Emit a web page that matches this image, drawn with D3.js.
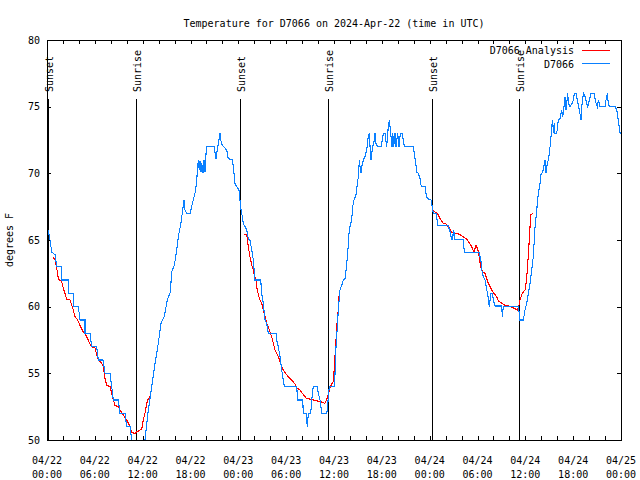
<!DOCTYPE html>
<html><head><meta charset="utf-8">
<script src="https://cdn.jsdelivr.net/npm/d3@7"></script>
<style>
html,body{margin:0;padding:0;background:#fff;}
svg{display:block;}
text{font-family:"DejaVu Sans Mono",monospace;font-size:10px;fill:#000;}
</style></head><body>
<svg id="chart" width="640" height="480"></svg>
<script>
// ---- data ----
const titleText = "Temperature for D7066 on 2024-Apr-22 (time in UTC)";
const yLabelText = "degrees F";
const seriesNames = ["D7066 Analysis", "D7066"];
const yTicks = [50, 55, 60, 65, 70, 75, 80];
const xLabelHours = [0, 6, 12, 18, 24, 30, 36, 42, 48, 54, 60, 66, 72];
const xLabelDates = ["04/22","04/22","04/22","04/22","04/23","04/23","04/23","04/23","04/24","04/24","04/24","04/24","04/25"];
const xLabelTimes = ["00:00","06:00","12:00","18:00","00:00","06:00","12:00","18:00","00:00","06:00","12:00","18:00","00:00"];
const sunHours = [0.15, 11.2, 24.25, 35.28, 48.33, 59.25];
const sunLabels = ["Sunset","Sunrise","Sunset","Sunrise","Sunset","Sunrise"];

// observations: hours since 2024-04-22 00:00 UTC
const obsHours = [0,0.16,0.38,0.59,1.00,1.22,1.84,1.84,2.67,2.67,3.30,3.30,3.93,4.14,4.77,4.77,5.39,5.61,6.23,6.44,7.02,7.28,7.90,8.12,8.32,8.94,9.16,9.78,10.00,10.41,10.62,10.91,11.67,12.08,12.29,12.50,12.71,13.13,13.55,13.96,14.30,14.71,15.09,15.47,15.64,15.97,16.27,16.47,16.81,17.02,17.19,17.31,17.52,17.94,18.35,18.65,18.78,18.90,18.98,19.10,19.19,19.32,19.41,19.57,19.69,19.82,19.95,20.03,20.99,21.07,21.20,21.32,21.49,21.70,21.79,21.99,22.54,22.74,23.24,23.37,23.50,23.58,23.80,24.08,24.21,24.34,24.50,24.62,24.84,25.05,25.25,25.46,25.68,25.88,26.09,26.81,26.93,27.13,27.35,27.56,27.76,28.73,28.81,29.01,29.23,29.44,29.64,29.77,31.32,31.45,32.08,32.15,32.49,32.58,32.65,32.78,33.08,33.20,33.40,33.91,34.03,34.25,34.46,35.09,35.16,35.29,35.41,36.04,36.13,36.25,36.42,36.54,36.75,36.97,37.17,37.38,37.51,37.72,37.88,38.01,38.22,38.34,38.55,38.72,38.89,39.05,39.18,39.26,39.39,39.48,39.68,39.89,40.10,40.30,40.43,40.52,40.64,40.73,40.86,41.06,41.14,41.27,41.48,41.90,42.06,42.19,42.40,42.61,42.81,42.94,43.03,43.15,43.28,43.37,43.49,43.65,43.78,43.99,44.16,44.32,44.53,44.70,44.82,45.95,46.07,46.25,46.38,46.58,46.79,46.92,47.08,47.42,47.54,47.71,48.17,48.33,48.46,48.88,48.96,50.34,50.47,50.64,50.71,50.89,50.97,51.09,51.18,52.22,52.35,54.23,54.32,54.44,54.53,54.73,54.94,55.16,55.28,55.36,55.49,55.57,55.70,55.88,55.98,56.19,57.04,57.11,57.24,59.12,59.25,59.33,59.75,59.96,60.17,60.38,60.59,60.80,61.00,61.22,61.43,61.63,61.84,61.93,62.06,62.26,62.39,62.47,62.60,62.76,62.89,63.01,63.19,63.31,63.44,63.51,63.64,63.72,63.94,64.14,64.35,64.56,64.69,64.85,64.97,65.10,65.23,65.32,65.39,65.61,65.86,66.02,66.15,66.36,66.52,66.77,66.99,67.07,67.28,67.49,67.70,67.83,68.03,68.24,68.62,68.74,68.87,69.03,69.16,69.37,69.99,70.12,70.29,70.41,70.54,71.25,71.47,71.59,71.72,71.84,72.00];
const obsTemps = [66,65.7,65,64.1,63.9,63,63,62,62,61,61,60,60,59,59,58,58,57,57,56,56,55,55,54,53,53,52,52,51,51,50,49.3,49,49.6,50,51.1,52.25,54,55.75,57.25,58.75,59.25,60.5,61.1,62.6,63.1,64.25,65.25,66.3,67.25,68,67.25,67,67,68,68.75,69.5,70.5,71,70.25,70.9,70.1,70.75,70,71,70.1,71.5,72,72,71.6,71.1,71.6,72.25,73,72.5,72.1,71.75,71.1,71,70.5,69.75,69.25,69,68.75,68,67.25,66.75,66.25,66,65.75,65.1,65,64.25,63.5,62,62,61,60.25,59,58.75,58,58,57.5,57,56.25,55.25,54.5,54,54,53,53,52,52,51.5,51,52,52,53,54,54,53.5,53,52,52,52.25,53.25,54,54,55,57,58.5,59.75,61.25,61.6,62,62.1,62.75,64,65.5,66,66.5,67.5,68.1,68.25,69,69.75,71,70.5,70,70.5,71,71.25,71.75,72.75,73,72,71,71.5,72,72.5,73,72.25,72,72,72.5,73,73,72,73.5,74,73.5,72.75,72,73,72,73,72,73,72,73,73,72.5,72,72,71.5,70.75,70.1,70,69.6,69.1,69,69,68.5,68.1,68,67.5,67,67,66.1,66.1,65.75,65.5,65.05,65.05,65.75,65.5,65.05,65.05,64.05,64.05,63.75,63.4,62.75,62.25,62,61.25,61,60.5,60,60.5,61,61,60.5,60.05,60.05,59.25,60,60,59.45,59,59,59.75,60.25,61,61.75,62.75,63.75,66,67.25,68.5,69.25,69.9,70,70.25,70.75,71,70,70.75,71,71.5,72.5,73.5,74,73,73.75,73,73,74,74.1,74.75,74.25,75,75.75,74.75,75.5,76,75.25,75,75.25,75.5,76,76,75.5,74.75,74,75,76,75.75,75.25,75,75.5,76,76,75.6,75.25,75,75.5,75,75,75.5,76,75.25,75,75,74.75,74.25,73.75,73.1,73];

// analysis (null = gap)
const anaHours = [0.79,1.00,1.22,1.42,1.63,1.84,2.04,2.26,2.47,2.89,3.10,3.30,3.51,3.73,3.93,4.14,4.55,4.77,4.98,5.39,5.61,6.02,6.23,6.44,6.86,7.06,7.28,7.49,7.90,8.12,8.32,8.53,8.94,9.16,9.57,10.00,10.20,10.41,10.62,11.04,11.25,11.67,11.88,12.08,12.29,12.50,12.71,12.92,
  null,
  24.71,25.05,25.13,25.25,25.46,25.68,25.88,26.00,26.22,26.30,26.51,26.72,26.93,27.13,27.35,27.56,27.76,27.97,28.19,28.39,28.60,28.81,29.01,29.23,29.44,29.64,29.85,30.27,30.69,31.11,31.32,31.74,32.15,32.58,33.20,33.62,34.24,34.87,35.08,35.29,35.50,35.71,35.91,36.04,36.13,36.25,36.41,36.54,36.63,36.75,
  null,
  48.46,48.88,49.08,49.30,49.51,49.71,50.05,50.21,50.46,50.76,50.97,51.39,51.81,52.22,52.65,52.97,53.27,53.56,53.81,53.98,54.15,54.40,54.65,54.94,55.16,55.36,55.57,55.78,56.07,56.41,56.61,57.04,57.45,57.87,58.49,58.99,59.17,59.33,59.55,59.75,59.96,60.09,60.25,60.42,60.59,60.71,61.00];
const anaTemps = [63.7,63.5,62.9,62.1,61.95,61.9,61.4,61,60.55,60.5,60.1,59.75,59.25,59.1,58.9,58.6,58.1,58,57.75,57.2,57,56.9,56.4,56,55.75,55.5,54.6,54.1,54,53.5,53,52.6,52.5,52.25,51.9,51.5,51.25,51,50.55,50.5,50.6,50.75,50.8,51.5,52,52.75,53.1,53.25,
  null,
  65.45,65.4,65.1,64.5,63.75,63.1,62.75,62.4,62,61.5,60.9,60.5,60.25,59.75,59.25,58.75,58.5,58.1,57.75,57.25,56.75,56.5,56.25,55.9,55.5,55.25,55.05,54.75,54.5,54.2,53.9,53.75,53.4,53.1,53.05,52.95,52.9,52.75,53,53.45,53.95,54.2,54.4,55.4,56.3,57.5,59,59.75,60.75,61.25,
  null,
  67.2,67,66.9,66.6,66.4,66.25,66.2,66,65.9,65.6,65.55,65.5,65.4,65.25,65.05,64.8,64.5,64.1,64.6,64.4,64,63,62.6,62.5,62.1,61.75,61.5,61.25,61,60.75,60.45,60.25,60.1,60.05,59.9,59.75,60,60.5,60.9,61.1,61.25,61.75,62.75,64.25,66,66.9,67];

// ---- drawing ----
const M = {left: 47, right: 621, top: 40, bottom: 440};
const svg = d3.select("#chart");
const x = d3.scaleLinear().domain([0, 72]).range([M.left, M.right]);
const y = d3.scaleLinear().domain([50, 80]).range([M.bottom, M.top]);
const blue = "#0a80ff", red = "#ff0000";

svg.append("defs").append("clipPath").attr("id","plotclip")
  .append("rect").attr("x", M.left).attr("y", M.top)
  .attr("width", M.right - M.left + 1).attr("height", M.bottom - M.top);

// title
svg.append("text").attr("x", 334).attr("y", 27).attr("text-anchor","middle").text(titleText);

// y label
svg.append("text").attr("transform","translate(13,240) rotate(-90)")
  .attr("text-anchor","middle").text(yLabelText);

// axes ticks
const xTickVals = d3.range(0, 73, 2);
const tk = 4;
function styleAxis(g){
  g.select(".domain").remove();
  g.selectAll("line").attr("stroke","#000").attr("shape-rendering","crispEdges");
  g.selectAll("text").attr("font-family","DejaVu Sans Mono, monospace").attr("font-size","10px").attr("fill","#000");
}
svg.append("g").attr("transform",`translate(0,${M.bottom})`)
  .call(d3.axisBottom(x).tickValues(xTickVals).tickSize(-tk).tickFormat("")).call(styleAxis);
svg.append("g").attr("transform",`translate(0,${M.top})`)
  .call(d3.axisTop(x).tickValues(xTickVals).tickSize(-tk).tickFormat("")).call(styleAxis);
svg.append("g").attr("transform",`translate(${M.left},0)`)
  .call(d3.axisLeft(y).tickValues(yTicks).tickSize(-tk).tickPadding(7).tickFormat(d3.format("d"))).call(styleAxis);
svg.append("g").attr("transform",`translate(${M.right},0)`)
  .call(d3.axisRight(y).tickValues(yTicks).tickSize(-tk).tickFormat("")).call(styleAxis);

// x labels (two lines)
const xl = svg.append("g");
xLabelHours.forEach((h,i)=>{
  xl.append("text").attr("x", x(h)).attr("y", 464).attr("text-anchor","middle").text(xLabelDates[i]);
  xl.append("text").attr("x", x(h)).attr("y", 478).attr("text-anchor","middle").text(xLabelTimes[i]);
});

// sunrise / sunset markers
const sg = svg.append("g");
sunHours.forEach((h,i)=>{
  const sx = Math.round(x(h)) + 0.5;
  sg.append("line").attr("x1", sx).attr("x2", sx).attr("y1", 99).attr("y2", M.bottom)
    .attr("stroke","#000").attr("stroke-width",1).attr("shape-rendering","crispEdges");
  sg.append("text").attr("transform",`translate(${sx+4},92) rotate(-90)`)
    .attr("text-anchor","start").text(sunLabels[i]);
});

// data lines
const anaData = anaHours.map((h,i)=>({h, t: anaTemps[i]}));
const obsData = obsHours.map((h,i)=>({h, t: obsTemps[i]}));
const line = d3.line().defined(d => d.h !== null && d.t !== null).x(d => x(d.h)).y(d => y(d.t));
const pg = svg.append("g").attr("clip-path","url(#plotclip)");
pg.append("path").datum(anaData).attr("d", line).attr("fill","none").attr("stroke", red)
  .attr("stroke-width",1.1).attr("shape-rendering","crispEdges");
pg.append("path").datum(obsData).attr("d", line).attr("fill","none").attr("stroke", blue)
  .attr("stroke-width",1.1).attr("shape-rendering","crispEdges");

// frame
svg.append("rect").attr("x", M.left + 0.5).attr("y", M.top + 0.5)
  .attr("width", M.right - M.left).attr("height", M.bottom - M.top)
  .attr("fill","none").attr("stroke","#000").attr("stroke-width",1).attr("shape-rendering","crispEdges");

// legend
const lg = svg.append("g");
const legColors = [red, blue];
seriesNames.forEach((name,i)=>{
  const ly = 50 + i*13.5;
  lg.append("text").attr("x", 574).attr("y", ly + 4).attr("text-anchor","end").text(name);
  lg.append("line").attr("x1", 582).attr("x2", 610).attr("y1", ly).attr("y2", ly)
    .attr("stroke", legColors[i]).attr("stroke-width",1).attr("shape-rendering","crispEdges");
});
</script>
</body></html>
